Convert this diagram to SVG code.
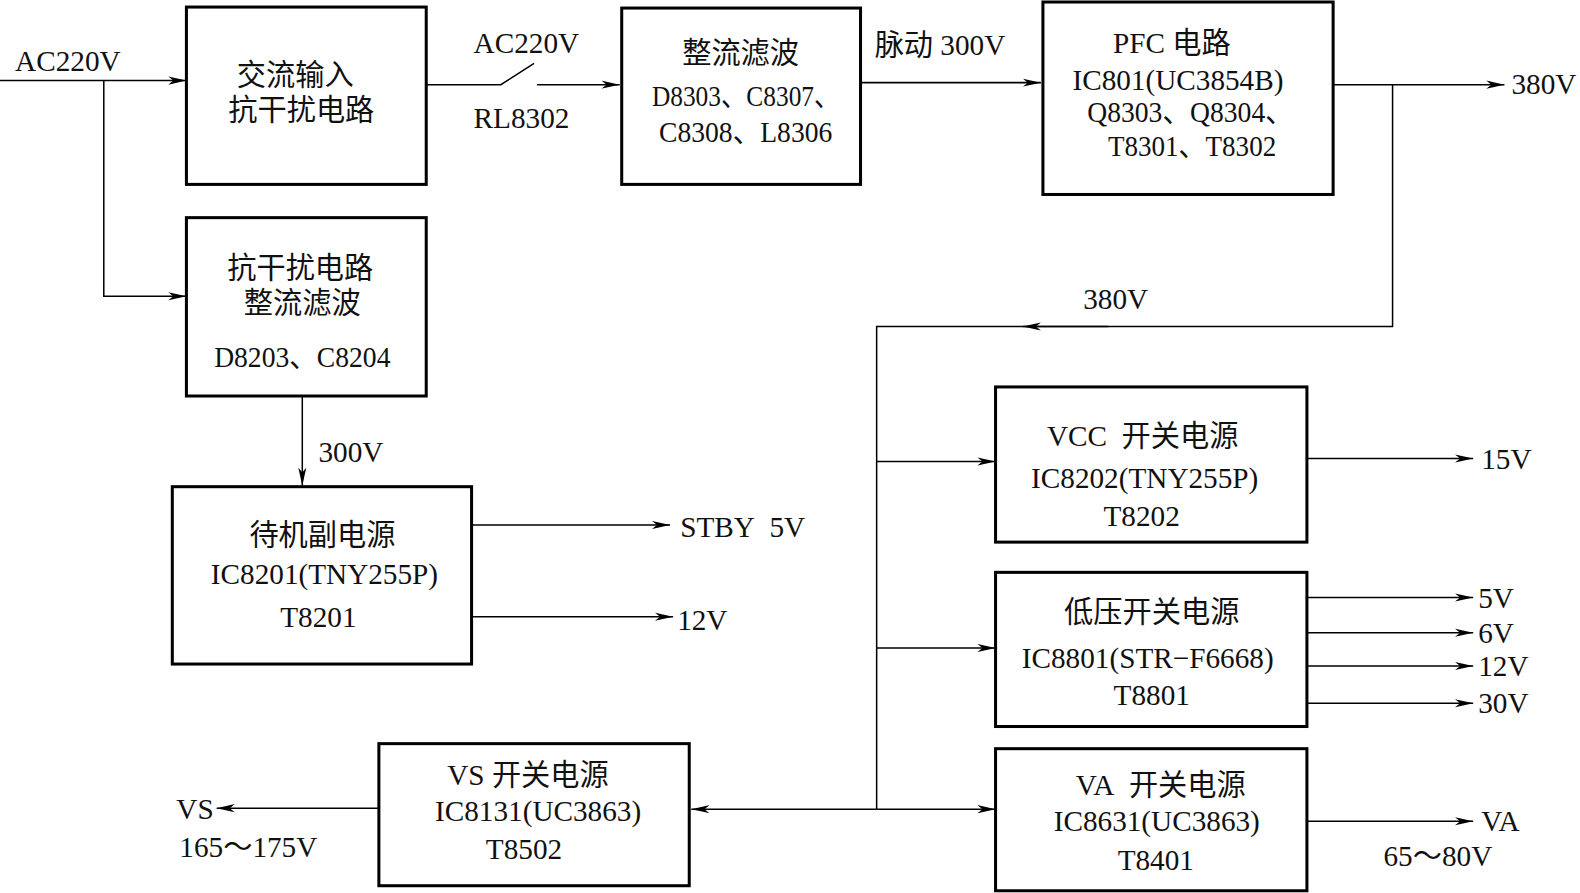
<svg xmlns="http://www.w3.org/2000/svg" width="1580" height="893" viewBox="0 0 1580 893">
<defs>
<marker id="ar" markerWidth="20" markerHeight="10" refX="18" refY="5" orient="auto" markerUnits="userSpaceOnUse">
<path d="M0,1 L18,5 L0,9 L5,5 Z" fill="#000"/>
</marker>
<style>
.box{fill:#fff;stroke:#000;stroke-width:3}
.ln{fill:none;stroke:#000;stroke-width:1.5}
.a{marker-end:url(#ar)}
text{font-family:"Liberation Serif","Noto Sans CJK SC",serif;font-size:29px;fill:#111}
.c{text-anchor:middle}
</style>
</defs>
<rect width="1580" height="893" fill="#fff"/>
<g transform="scale(1.00765)">
<g id="connectors">
<path class="ln a" d="M0,80 H185"/>
<path class="ln a" d="M103,80 V294 H185"/>
<path class="ln" d="M423,84 H497 L530,63"/>
<path class="ln a" d="M533,84 H615"/>
<path class="ln a" d="M854,82 H1033"/>
<path class="ln a" d="M1323,84 H1493"/>
<path class="ln" d="M1382,84 V324 H870 V803"/>
<path class="ln a" d="M1100,324 H1015"/>
<path class="ln a" d="M870,458 H988"/>
<path class="ln a" d="M870,643 H988"/>
<path class="ln a" d="M870,803 H988"/>
<path class="ln a" d="M870,803 H686"/>
<path class="ln a" d="M300,393 V482"/>
<path class="ln a" d="M468,521 H665"/>
<path class="ln a" d="M468,612 H668"/>
<path class="ln a" d="M1297,455 H1462"/>
<path class="ln a" d="M1297,593 H1462"/>
<path class="ln a" d="M1297,628 H1462"/>
<path class="ln a" d="M1297,661 H1462"/>
<path class="ln a" d="M1297,698 H1462"/>
<path class="ln a" d="M1297,815 H1462"/>
<path class="ln a" d="M376,802 H215"/>
<text x="15" y="70">AC220V</text>
<text x="470" y="53">AC220V</text>
<text x="470" y="127">RL8302</text>
<text x="868" y="55">脉动 300V</text>
<text x="1500" y="93">380V</text>
<text x="1075" y="307">380V</text>
<text x="316" y="458">300V</text>
<text x="675" y="533">STBY&#160;&#160;5V</text>
<text x="672" y="625">12V</text>
<text x="1470" y="465">15V</text>
<text x="1467" y="603">5V</text>
<text x="1467" y="638">6V</text>
<text x="1467" y="671">12V</text>
<text x="1467" y="708">30V</text>
<text x="1470" y="825">VA</text>
<text x="1373" y="859">65～80V</text>
<text x="175" y="813">VS</text>
<text x="178" y="850">165～175V</text>
</g>
<g id="n1"><rect class="box" x="185" y="7" width="238" height="176"/>
<text class="c" x="293" y="84">交流输入</text><text class="c" x="299" y="119">抗干扰电路</text></g>
<g id="n3"><rect class="box" x="617" y="8" width="237" height="175"/>
<text class="c" x="735" y="63">整流滤波</text><text class="c" x="740" y="105" textLength="186" lengthAdjust="spacingAndGlyphs">D8303、C8307、</text><text class="c" x="740" y="141" textLength="172" lengthAdjust="spacingAndGlyphs">C8308、L8306</text></g>
<g id="n4"><rect class="box" x="1035" y="2" width="288" height="191"/>
<text class="c" x="1163" y="53">PFC 电路</text><text class="c" x="1169" y="89">IC801(UC3854B)</text><text class="c" x="1181" y="121" textLength="204" lengthAdjust="spacingAndGlyphs">Q8303、Q8304、</text><text class="c" x="1183" y="155" textLength="167" lengthAdjust="spacingAndGlyphs">T8301、T8302</text></g>
<g id="n2"><rect class="box" x="185" y="216" width="238" height="177"/>
<text class="c" x="298" y="276">抗干扰电路</text><text class="c" x="300" y="311">整流滤波</text><text class="c" x="300" y="364" textLength="175" lengthAdjust="spacingAndGlyphs">D8203、C8204</text></g>
<g id="n5"><rect class="box" x="171" y="483" width="297" height="176"/>
<text class="c" x="320" y="541">待机副电源</text><text class="c" x="322" y="580">IC8201(TNY255P)</text><text class="c" x="316" y="622">T8201</text></g>
<g id="n6"><rect class="box" x="988" y="384" width="309" height="154"/>
<text class="c" x="1134" y="443">VCC&#160;&#160;开关电源</text><text class="c" x="1136" y="484">IC8202(TNY255P)</text><text class="c" x="1133" y="522">T8202</text></g>
<g id="n7"><rect class="box" x="988" y="568" width="309" height="153"/>
<text class="c" x="1143" y="617">低压开关电源</text><text class="c" x="1139" y="663">IC8801(STR−F6668)</text><text class="c" x="1143" y="700">T8801</text></g>
<g id="n8"><rect class="box" x="988" y="743" width="309" height="141"/>
<text class="c" x="1152" y="789">VA&#160;&#160;开关电源</text><text class="c" x="1148" y="825">IC8631(UC3863)</text><text class="c" x="1147" y="863">T8401</text></g>
<g id="n9"><rect class="box" x="376" y="738" width="308" height="141"/>
<text class="c" x="524" y="779">VS 开关电源</text><text class="c" x="534" y="815">IC8131(UC3863)</text><text class="c" x="520" y="852">T8502</text></g>
</g>
</svg>
